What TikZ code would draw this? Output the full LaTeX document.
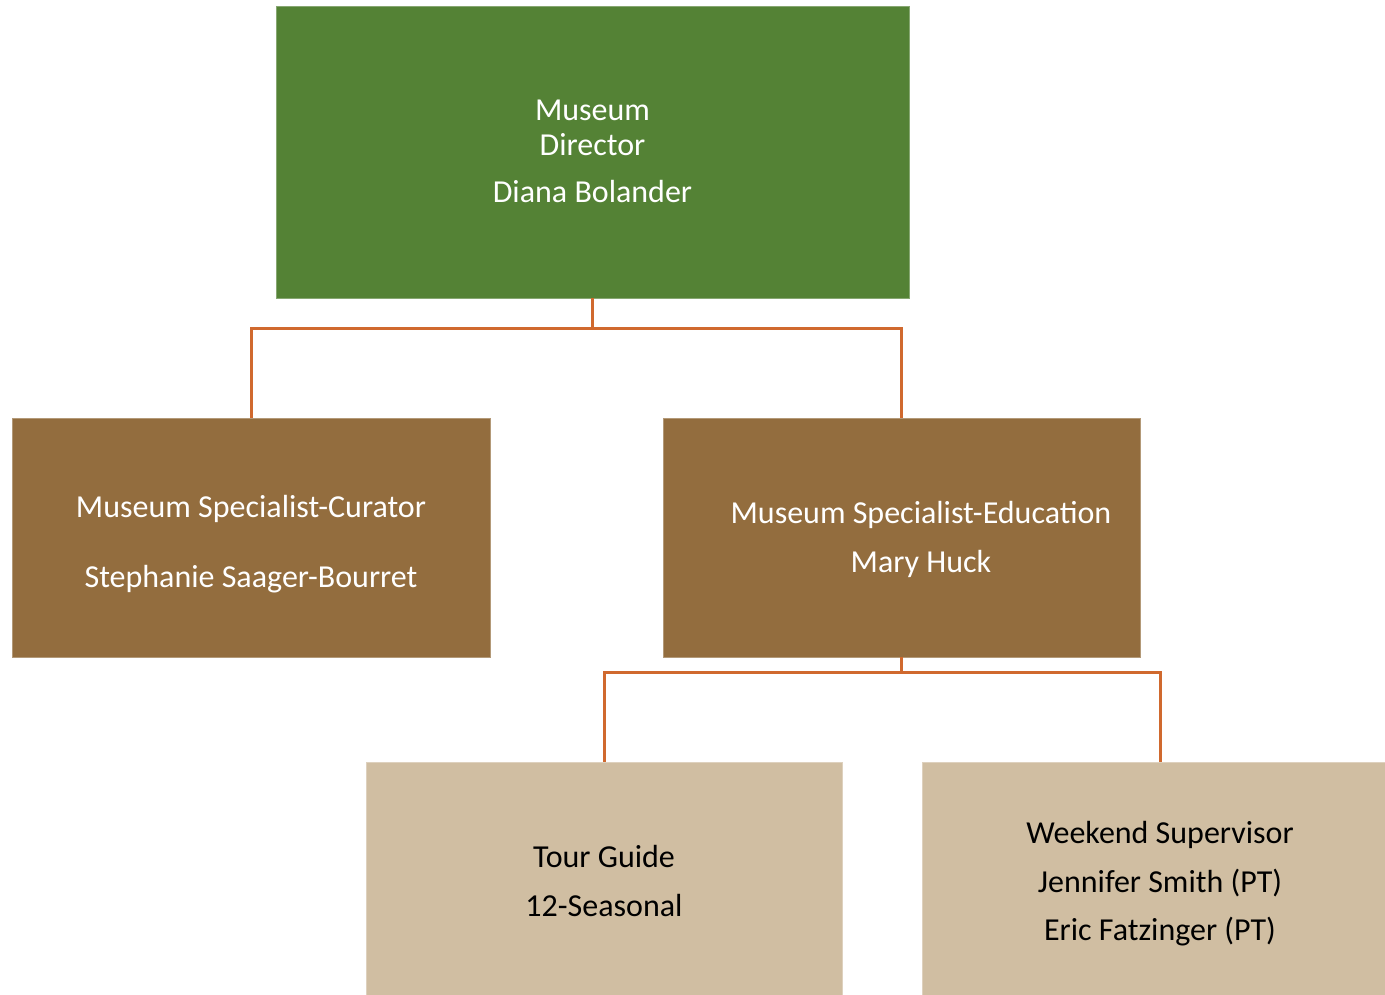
\documentclass[tikz,border=0pt]{standalone}
\usepackage{fontspec}
\setmainfont{Carlito}
\definecolor{dirgreen}{HTML}{548235}
\definecolor{midbrown}{HTML}{936D3E}
\definecolor{lighttan}{HTML}{D0BEA2}
\definecolor{connorange}{HTML}{D0692E}
\tikzset{
  box/.style={draw=#1!70!white, line width=1pt, fill=#1, minimum width=0pt, inner sep=0pt},
  lbl/.style={anchor=base, font=\fontsize{32}{38}\selectfont, inner sep=0pt},
  wlbl/.style={lbl, text=white},
  blbl/.style={lbl, text=black},
  conn/.style={draw=connorange, line width=3pt},
}
\begin{document}
\begin{tikzpicture}[x=1pt,y=-1pt]
\useasboundingbox (0,0) rectangle (1385,994);
\clip (0,0) rectangle (1385,994);
\fill[white] (0,0) rectangle (1385,994);
% boxes
\path[box=dirgreen] (276,6) rectangle (909,298);
\node[minimum width=633pt, minimum height=292pt, inner sep=0pt] (dir) at (592.5,152) {};
\path[box=midbrown] (12,418) rectangle (490,657);
\node[minimum width=478pt, minimum height=239pt, inner sep=0pt] (cur) at (251,537.5) {};
\path[box=midbrown] (663,418) rectangle (1140,657);
\node[minimum width=477pt, minimum height=239pt, inner sep=0pt] (edu) at (901.5,537.5) {};
\path[box=lighttan] (366,762) rectangle (842,1001);
\node[minimum width=476pt, minimum height=239pt, inner sep=0pt] (tour) at (604,881.5) {};
\path[box=lighttan] (922,762) rectangle (1398,1001);
\node[minimum width=476pt, minimum height=239pt, inner sep=0pt] (week) at (1160,881.5) {};
% texts
\node[wlbl] (t1) at (592.5,120) {Museum};
\node[wlbl] (t2) at (592.5,155) {Director};
\node[wlbl] (t3) at (592.5,202.5) {Diana Bolander};
\node[wlbl] (t4) at (251,517.5) {Museum Specialist-Curator};
\node[wlbl] (t5) at (251,587.5) {Stephanie Saager-Bourret};
\node[wlbl] (t6) at (921,523.5) {Museum Specialist-Education};
\node[wlbl] (t7) at (921,572.5) {Mary Huck};
\node[blbl] (t8) at (604,867.5) {Tour Guide};
\node[blbl] (t9) at (604,916.5) {12-Seasonal};
\node[blbl] (t10) at (1160,843) {Weekend Supervisor};
\node[blbl] (t11) at (1160,892) {Jennifer Smith (PT)};
\node[blbl] (t12) at (1160,940) {Eric Fatzinger (PT)};
% connectors
\draw[conn] (dir.south) -- ++(0,30) -| (cur.north);
\draw[conn] (dir.south) ++(0,30) -| (edu.north);
\draw[conn] (edu.south) -- ++(0,15) -| (tour.north);
\draw[conn] (edu.south) ++(0,15) -| (week.north);
\end{tikzpicture}
\end{document}
